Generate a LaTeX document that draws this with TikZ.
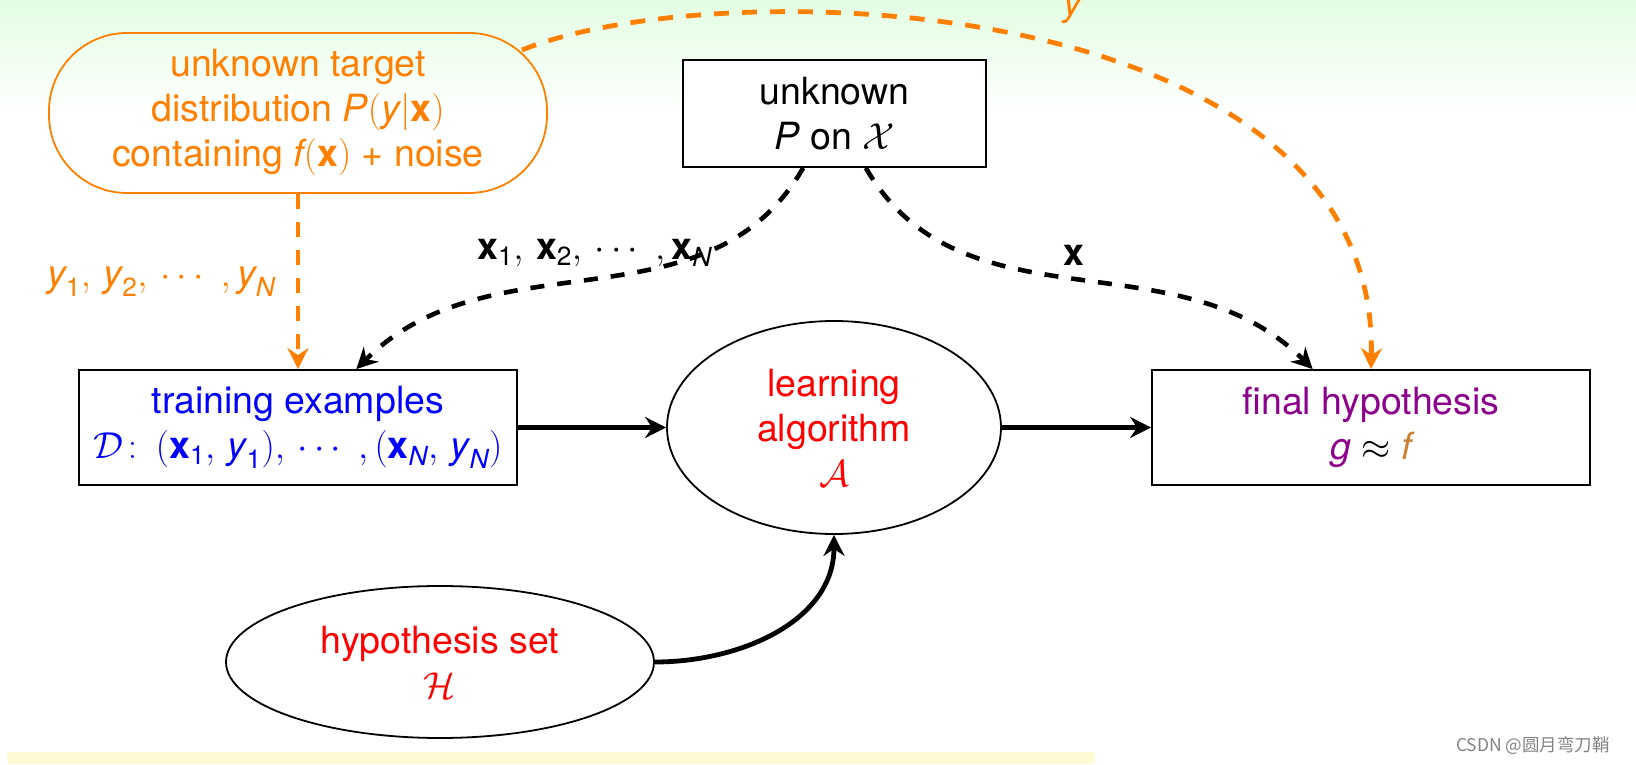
\RequirePackage{fix-cm}
\documentclass[tikz,border=0pt]{standalone}
\usepackage{amsmath}
\usepackage{fontspec}
\setmainfont{TeX Gyre Heros}
\newfontfamily\cjkfont{Noto Sans CJK SC}
\usetikzlibrary{arrows.meta,shapes.geometric}
\definecolor{ora}{RGB}{255,128,0}
\definecolor{pur}{RGB}{140,0,140}
\definecolor{fcol}{RGB}{204,128,51}
\definecolor{wmgray}{RGB}{130,130,130}
\definecolor{bggreen}{RGB}{226,253,226}
\definecolor{stripy}{RGB}{255,250,212}
\tikzset{
  big/.style={font=\fontsize{37.5}{45}\selectfont, align=center},
  boxnode/.style={big, draw, line width=1.8pt, fill=white, inner sep=0pt},
  ellnode/.style={big, ellipse, draw, line width=1.8pt, inner sep=1pt},
  tip/.style={-{Stealth[length=21pt,width=21pt,inset=7pt]}},
  solidarrow/.style={tip, line width=4.4pt},
  blackdash/.style={tip, line width=4.6pt, dash pattern=on 14pt off 13pt},
  orangedash/.style={tip, ora, line width=4.8pt, dash pattern=on 15pt off 13pt},
}
\begin{document}
\begin{tikzpicture}[x=1pt,y=1pt]
\useasboundingbox (0,0) rectangle (1636,764);
% background
\shade[top color=bggreen, bottom color=white] (0,650) rectangle (1636,764);
\fill[stripy, rounded corners=3pt] (7,0) rectangle (1095,12);
% nodes
\node[big, draw=ora, text=ora, line width=1.8pt, rounded corners=78pt,
      minimum width=498pt, minimum height=160pt, inner sep=0pt] (target) at (298,651)
  {unknown target\\distribution $\textit{P}(\textit{y}|\textbf{x})$\\containing $\textit{f}(\textbf{x})$ + noise};
\node[boxnode, minimum width=303pt, minimum height=107pt] (unknown) at (834.5,650.5)
  {unknown\\\textit{P} on $\mathcal{X}$};
\node[boxnode, text=blue, minimum width=438pt, minimum height=115pt] (train) at (298,336.5)
  {training examples\\$\mathcal{D}\colon\,(\textbf{x}_{\text{1}},\,\textit{y}_{\text{1}}),\,\cdots\;,(\textbf{x}_{\textit{N}},\,\textit{y}_{\textit{N}})$};
\node[ellnode, text=red, minimum width=334pt, minimum height=213pt] (learn) at (834,336.5)
  {learning\\algorithm\\$\mathcal{A}$};
\node[boxnode, minimum width=438pt, minimum height=115pt] (final) at (1371,336.5)
  {\textcolor{pur}{final hypothesis}\\$\textcolor{pur}{\textit{g}}\approx\textcolor{fcol}{\textit{f}}$};
\node[ellnode, text=red, minimum width=428pt, minimum height=152pt] (hyp) at (440,102)
  {hypothesis set\\$\mathcal{H}$};
\coordinate (ts) at (522,714);
% connectors
\draw[solidarrow] (train) -- (learn);
\draw[solidarrow] (learn) -- (final);
\draw[solidarrow, line width=4.8pt] (hyp.east) to[out=0,in=-90] (learn.south);
\draw[blackdash] (unknown) to[out=-120,in=45]
  node[big, above, yshift=7pt] (xlab) {$\textbf{x}_{\text{1}},\,\textbf{x}_{\text{2}},\,\cdots\;,\textbf{x}_{\textit{N}}$} (train);
\draw[blackdash] (unknown) to[out=-60,in=135]
  node[big, above, yshift=9pt] (xone) {\textbf{x}} (final);
\draw[orangedash] (target.south) --
  node[big, left, text=ora, xshift=-17pt] (ylab) {$\textit{y}_{\text{1}},\,\textit{y}_{\text{2}},\,\cdots\;,\textit{y}_{\textit{N}}$} (train.north);
\draw[orangedash] (ts) .. controls (720,794) and (1380,774) .. (final.north);
\node[big, text=ora] (ytop) at (1074,754) {\textit{y}};
\node[text=wmgray, font=\cjkfont\fontsize{17.5}{18}\selectfont] (wm) at (1533,18) {CSDN @圆月弯刀鞘};
\end{tikzpicture}
\end{document}
